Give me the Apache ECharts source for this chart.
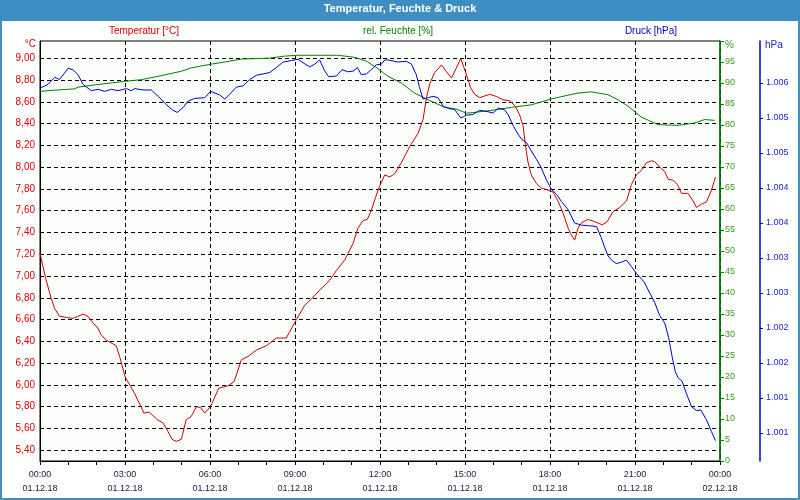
<!DOCTYPE html>
<html>
<head>
<meta charset="utf-8">
<script src="https://cdn.jsdelivr.net/npm/echarts@6/dist/echarts.min.js"></script>
<style>
html,body{margin:0;padding:0;background:#fff;}
#chart{width:800px;height:500px;}
</style>
</head>
<body>
<div id="chart"></div>
<script>
// ---- data (hours since 01.12.18 00:00) ----
var tempHours = [0.00,0.19,0.40,0.52,0.69,0.93,1.16,1.34,1.52,1.69,1.87,2.02,2.16,2.34,2.69,2.81,3.01,3.34,3.67,3.85,4.14,4.34,4.52,4.66,4.81,4.99,5.16,5.34,5.52,5.67,5.81,6.02,6.31,6.64,6.85,7.11,7.34,7.64,7.99,8.34,8.69,9.05,9.34,9.58,9.91,10.22,10.46,10.76,11.05,11.22,11.40,11.55,11.69,11.84,11.96,12.17,12.34,12.52,12.75,13.05,13.34,13.52,13.64,13.76,13.93,14.17,14.34,14.52,14.69,14.85,15.01,15.20,15.34,15.52,15.87,16.11,16.34,16.58,16.78,16.93,17.05,17.13,17.22,17.34,17.52,17.69,17.93,18.11,18.28,18.46,18.64,18.75,18.87,18.99,19.11,19.34,19.58,19.84,20.02,20.22,20.46,20.70,20.87,21.05,21.22,21.40,21.58,21.70,21.91,22.05,22.17,22.34,22.50,22.64,22.87,23.05,23.17,23.34,23.52,23.70,23.84];
var tempValues = [7.21,6.99,6.79,6.70,6.63,6.62,6.61,6.63,6.65,6.63,6.57,6.53,6.46,6.41,6.36,6.26,6.07,5.92,5.74,5.75,5.68,5.65,5.57,5.50,5.48,5.50,5.68,5.71,5.80,5.79,5.74,5.80,5.97,5.99,6.03,6.23,6.26,6.32,6.36,6.43,6.43,6.60,6.73,6.79,6.88,6.96,7.05,7.15,7.30,7.44,7.51,7.52,7.60,7.72,7.81,7.93,7.91,7.94,8.04,8.19,8.31,8.44,8.64,8.77,8.87,8.94,8.88,8.82,8.91,9.00,8.88,8.73,8.67,8.64,8.67,8.65,8.62,8.61,8.56,8.48,8.38,8.21,8.05,7.93,7.85,7.81,7.79,7.77,7.69,7.58,7.44,7.38,7.33,7.44,7.49,7.52,7.50,7.47,7.50,7.59,7.63,7.69,7.84,7.93,7.97,8.04,8.06,8.05,7.99,7.96,7.89,7.88,7.84,7.76,7.76,7.69,7.63,7.66,7.68,7.79,7.91];

var humHours = [0.00,0.52,1.22,1.34,1.99,2.99,3.58,4.17,4.99,5.34,6.05,6.52,7.11,8.05,8.64,9.11,9.93,10.52,11.11,11.52,11.87,12.28,12.75,13.22,13.70,14.28,14.69,15.05,15.46,16.05,16.64,17.34,18.05,18.64,18.99,19.46,20.05,20.40,20.75,21.22,21.81,22.52,23.11,23.46,23.81];
var humValues = [88.0,88.3,88.6,89.0,89.6,90.4,90.8,91.6,92.8,93.6,94.5,95.0,95.7,95.9,96.4,96.6,96.6,96.6,96.1,95.2,93.7,91.6,90.0,87.6,86.0,84.2,83.8,82.8,83.1,83.6,84.2,84.8,86.2,87.1,87.6,87.9,87.2,86.0,84.5,81.9,80.1,79.9,80.5,81.3,81.1];

var presHours = [0.02,0.28,0.52,0.69,0.99,1.16,1.34,1.52,1.81,2.05,2.28,2.52,2.75,3.05,3.22,3.34,3.64,3.93,4.17,4.46,4.69,4.85,5.05,5.22,5.46,5.81,6.02,6.34,6.52,6.69,6.93,7.17,7.40,7.64,8.11,8.34,8.58,8.87,9.11,9.28,9.52,9.70,9.87,10.05,10.19,10.46,10.66,10.87,11.05,11.20,11.34,11.52,11.69,11.87,12.05,12.17,12.28,12.64,12.93,13.11,13.28,13.40,13.52,13.70,13.87,14.05,14.22,14.40,14.64,14.85,15.05,15.28,15.52,15.81,15.99,16.17,16.39,16.52,16.70,16.87,17.01,17.17,17.34,17.52,17.69,17.87,18.05,18.23,18.40,18.64,18.87,19.11,19.40,19.64,19.81,19.93,20.05,20.17,20.34,20.52,20.70,20.87,21.05,21.32,21.52,21.70,21.87,22.05,22.19,22.31,22.42,22.52,22.66,22.81,22.99,23.17,23.32,23.52,23.70,23.84];
var presValues = [1005.93,1005.98,1006.08,1006.05,1006.21,1006.19,1006.12,1005.98,1005.89,1005.91,1005.88,1005.91,1005.89,1005.92,1005.89,1005.92,1005.90,1005.90,1005.81,1005.69,1005.61,1005.58,1005.65,1005.74,1005.78,1005.79,1005.88,1005.83,1005.77,1005.84,1005.94,1005.96,1006.05,1006.11,1006.15,1006.22,1006.30,1006.32,1006.34,1006.29,1006.23,1006.27,1006.33,1006.17,1006.09,1006.10,1006.19,1006.16,1006.17,1006.22,1006.12,1006.13,1006.19,1006.26,1006.27,1006.33,1006.33,1006.30,1006.31,1006.27,1006.12,1005.93,1005.77,1005.79,1005.81,1005.79,1005.67,1005.64,1005.62,1005.50,1005.54,1005.55,1005.61,1005.59,1005.57,1005.64,1005.62,1005.55,1005.39,1005.27,1005.19,1005.15,1005.03,1004.91,1004.79,1004.62,1004.48,1004.41,1004.31,1004.19,1004.00,1003.97,1003.96,1003.95,1003.79,1003.65,1003.53,1003.47,1003.42,1003.44,1003.47,1003.38,1003.28,1003.16,1003.00,1002.86,1002.68,1002.57,1002.36,1002.09,1001.88,1001.79,1001.74,1001.57,1001.38,1001.32,1001.33,1001.19,1001.02,1000.89];

var tempTicks = [5.4,5.6,5.8,6.0,6.2,6.4,6.6,6.8,7.0,7.2,7.4,7.6,7.8,8.0,8.2,8.4,8.6,8.8,9.0];
var presTicks = [1001,1001.5,1002,1002.5,1003,1003.5,1004,1004.5,1005,1005.5,1006];
var timeLabels = ['00:00','03:00','06:00','09:00','12:00','15:00','18:00','21:00','00:00'];
var dateLabels = ['01.12.18','01.12.18','01.12.18','01.12.18','01.12.18','01.12.18','01.12.18','01.12.18','02.12.18'];

var titleText = 'Temperatur, Feuchte & Druck';
var seriesNames = ['Temperatur [°C]', 'rel. Feuchte [%]', 'Druck [hPa]'];

function pairs(xs, ys) { return xs.map(function (x, i) { return [x, ys[i]]; }); }

var RED = '#cc0000', GREEN = '#008000', BLUE = '#0000cc';
var FONT = 'Liberation Sans';
var dash = [4, 3];

var chart = echarts.init(document.getElementById('chart'), null, {renderer: 'canvas'});
chart.setOption({
  animation: false,
  backgroundColor: '#ffffff',
  textStyle: {fontFamily: FONT},
  grid: {left: 40, right: 80, top: 41, bottom: 39, show: true, borderColor: '#000', borderWidth: 1, backgroundColor: '#fcfefc'},
  graphic: [
    {type: 'rect', shape: {x: 0, y: 0, width: 800, height: 21}, style: {fill: '#3e8ec4'}, z: 0},
    {type: 'rect', shape: {x: 1, y: 1, width: 798, height: 498}, style: {fill: null, stroke: '#3e8ec4', lineWidth: 2}, z: 0},
    {type: 'text', left: 'center', top: 3, style: {text: titleText, fill: '#ffffff', font: 'bold 11px "' + FONT + '"'}},
    {type: 'text', x: 144, y: 31, style: {text: seriesNames[0], fill: RED, font: '10px "' + FONT + '"', textAlign: 'center', textVerticalAlign: 'middle'}},
    {type: 'text', x: 398, y: 31, style: {text: seriesNames[1], fill: GREEN, font: '10px "' + FONT + '"', textAlign: 'center', textVerticalAlign: 'middle'}},
    {type: 'text', x: 651, y: 31, style: {text: seriesNames[2], fill: BLUE, font: '10px "' + FONT + '"', textAlign: 'center', textVerticalAlign: 'middle'}},
    {type: 'text', x: 36, y: 44, style: {text: '°C', fill: '#d40000', font: '10px "' + FONT + '"', textAlign: 'right', textVerticalAlign: 'middle'}},
    {type: 'text', x: 725, y: 45, style: {text: '%', fill: '#3a9a1a', font: '10px "' + FONT + '"', textAlign: 'left', textVerticalAlign: 'middle'}},
    {type: 'text', x: 765, y: 45, style: {text: 'hPa', fill: '#2222dd', font: '10px "' + FONT + '"', textAlign: 'left', textVerticalAlign: 'middle'}}
  ],
  xAxis: {
    type: 'value', min: 0, max: 24, interval: 3,
    axisLine: {show: true, lineStyle: {color: '#000', width: 1}},
    axisTick: {show: true, length: 4, lineStyle: {color: '#000'}},
    minorTick: {show: true, splitNumber: 3, length: 4, lineStyle: {color: '#000'}},
    splitLine: {show: true, lineStyle: {color: '#000', type: dash, width: 1}},
    axisLabel: {
      margin: 7, fontSize: 9, lineHeight: 14, color: '#1a1a40', fontFamily: FONT,
      formatter: function (v) { var i = Math.round(v / 3); return timeLabels[i] + '\n' + dateLabels[i]; }
    }
  },
  yAxis: [
    {
      type: 'value', position: 'left', min: 5.3, max: 9.16,
      axisLine: {show: true, lineStyle: {color: '#000', width: 1}},
      axisTick: {show: false, customValues: tempTicks},
      axisLabel: {customValues: tempTicks, margin: 5, fontSize: 10, color: '#d40000', fontFamily: FONT,
        formatter: function (v) { return v.toFixed(2).replace('.', ','); }},
      splitLine: {show: true, lineStyle: {color: '#000', type: dash, width: 1}}
    },
    {
      type: 'value', position: 'right', min: 0, max: 100, interval: 5,
      axisLine: {show: true, lineStyle: {color: GREEN, width: 1.5}},
      axisTick: {show: true, length: 4, lineStyle: {color: GREEN}},
      axisLabel: {margin: 5, fontSize: 9, color: '#3a9a1a', fontFamily: FONT,
        formatter: function (v) { return v >= 100 ? '' : String(v); }},
      splitLine: {show: false}
    },
    {
      type: 'value', position: 'right', offset: 40, min: 1000.6, max: 1006.6,
      axisLine: {show: true, lineStyle: {color: BLUE, width: 1.5}},
      axisTick: {show: true, length: 3, customValues: presTicks, lineStyle: {color: BLUE}},
      axisLabel: {customValues: presTicks, margin: 6, fontSize: 9, color: '#2222dd', fontFamily: FONT,
        formatter: function (v) { return (Math.floor(v + 1e-9) / 1000).toFixed(3); }},
      splitLine: {show: false}
    }
  ],
  series: [
    {name: seriesNames[1], type: 'line', yAxisIndex: 1, data: pairs(humHours, humValues), showSymbol: false, symbol: 'none', lineStyle: {color: GREEN, width: 1}, itemStyle: {color: GREEN}},
    {name: seriesNames[2], type: 'line', yAxisIndex: 2, data: pairs(presHours, presValues), showSymbol: false, symbol: 'none', lineStyle: {color: BLUE, width: 1}, itemStyle: {color: BLUE}},
    {name: seriesNames[0], type: 'line', yAxisIndex: 0, data: pairs(tempHours, tempValues), showSymbol: false, symbol: 'none', lineStyle: {color: RED, width: 1}, itemStyle: {color: RED}}
  ]
});
</script>
</body>
</html>
